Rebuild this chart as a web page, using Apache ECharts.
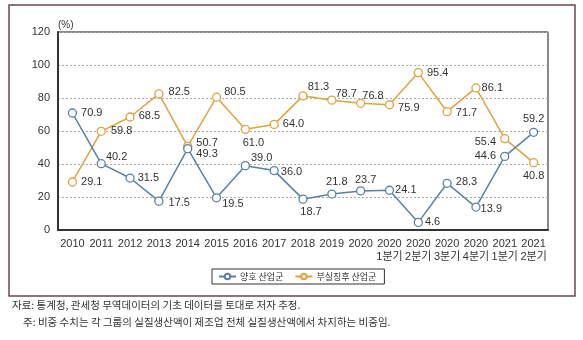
<!DOCTYPE html>
<html><head><meta charset="utf-8">
<script src="https://cdn.jsdelivr.net/npm/echarts@6/dist/echarts.min.js"></script>
<style>html,body{margin:0;padding:0;background:#fff}#c{width:583px;height:340px}</style>
</head><body><div id="c"></div>
<script>
const categories = ['2010','2011','2012','2013','2014','2015','2016','2017','2018','2019','2020','2020\n1분기','2020\n2분기','2020\n3분기','2020\n4분기','2021\n1분기','2021\n2분기'];
const goodName = '양호 산업군';
const badName = '부실징후 산업군';
const goodValues = [70.9,40.2,31.5,17.5,49.3,19.5,39.0,36.0,18.7,21.8,23.7,24.1,4.6,28.3,13.9,44.6,59.2];
const badValues = [29.1,59.8,68.5,82.5,50.7,80.5,61.0,64.0,81.3,78.7,76.8,75.9,95.4,71.7,86.1,55.4,40.8];
const yTicks = [0,20,40,60,80,100,120];
// label placement styles (not data): [position, dx, dy]
const goodLabelPlace = [['right',0,0],['right',-4,-7],['right',-1,0],['right',1,2],['right',0,5],['right',-3,6],['right',-3,-8],['right',-2,1],
  ['bottom',8,0],['top',5,1],['top',5,2],['right',-3,0],['right',-2,0],['right',0,-1],['right',-4,2],['left',0,0],['top',0,0]];
const badLabelPlace = [['right',0,0],['right',1,0],['right',0,-1],['right',1,-2],['right',0,-3],['right',-1,-5],['bottom',8,0],['right',0,0],
  ['right',-4,-9],['right',-5,-6],['right',-7,-7],['right',0,3],['right',0,0],['right',0,1],['right',-3,0],['left',0,3],['bottom',0,0]];

function labelFor(p){
  return {show:true, fontSize:11, color:'#333', fontFamily:'Liberation Sans, Arial',
    position:p[0], distance:p[0]==='right'||p[0]==='left'?4:3, offset:[p[1],p[2]],
    formatter:(d)=>Number(d.value).toFixed(1)};
}
function build(vals,places){ return vals.map((v,i)=>({value:v,label:labelFor(places[i])})); }

const chart = echarts.init(document.getElementById('c'));
chart.setOption({
  animation:false,
  textStyle:{fontFamily:'Liberation Sans, Arial, Noto Sans CJK KR'},
  grid:{left:58, top:32, width:490, height:198, show:true, borderColor:'#111', borderWidth:1},
  xAxis:{type:'category', data:categories, boundaryGap:true,
    axisLine:{lineStyle:{color:'#333',width:2}}, axisTick:{show:false},
    axisLabel:{color:'#333',fontSize:11,interval:0,lineHeight:13,margin:7,fontFamily:'Liberation Sans, Noto Sans CJK KR'}},
  yAxis:{type:'value', min:yTicks[0], max:yTicks[yTicks.length-1], interval:20,
    name:'(%)', nameLocation:'end', nameGap:2, nameTextStyle:{color:'#333',fontSize:10,align:'left',verticalAlign:'bottom'},
    axisLine:{show:true,lineStyle:{color:'#333',width:2}}, axisTick:{show:false},
    axisLabel:{color:'#333',fontSize:11,margin:8},
    splitLine:{lineStyle:{color:'#aaa',type:[2,2],width:1}}},
  legend:{top:269, left:212, itemWidth:17, itemHeight:7, itemGap:11,
    borderColor:'#333', borderWidth:1, borderRadius:0, padding:[3,8,3,6],
    textStyle:{color:'#333',fontSize:9,fontFamily:'Noto Sans CJK KR',padding:[0,0,0,-1]},
    data:[goodName,badName]},
  series:[
    {name:goodName,type:'line',data:build(goodValues,goodLabelPlace),symbol:'circle',symbolSize:8,
     itemStyle:{color:'#fff',borderColor:'#5b80a8',borderWidth:1.3},
     lineStyle:{color:'#5b80a8',width:1.5}, z:3},
    {name:badName,type:'line',data:build(badValues,badLabelPlace),symbol:'circle',symbolSize:8,
     itemStyle:{color:'#fff',borderColor:'#e0a23f',borderWidth:1.3},
     lineStyle:{color:'#e0a23f',width:1.5}, z:2}
  ],
  graphic:[
    {type:'rect',shape:{x:9,y:5,width:566,height:291},style:{fill:'none',stroke:'#6a4a4a',lineWidth:1.5},silent:true},
    {type:'text',x:12,y:300,style:{text:'자료: 통계청, 관세청 무역데이터의 기초 데이터를 토대로 저자 추정.',fill:'#333',font:'10.5px "Noto Sans CJK KR"'}},
    {type:'text',x:23,y:317,style:{text:'주: 비중 수치는 각 그룹의 실질생산액이 제조업 전체 실질생산액에서 차지하는 비중임.',fill:'#333',font:'10.5px "Noto Sans CJK KR"'}}
  ]
});
</script></body></html>
